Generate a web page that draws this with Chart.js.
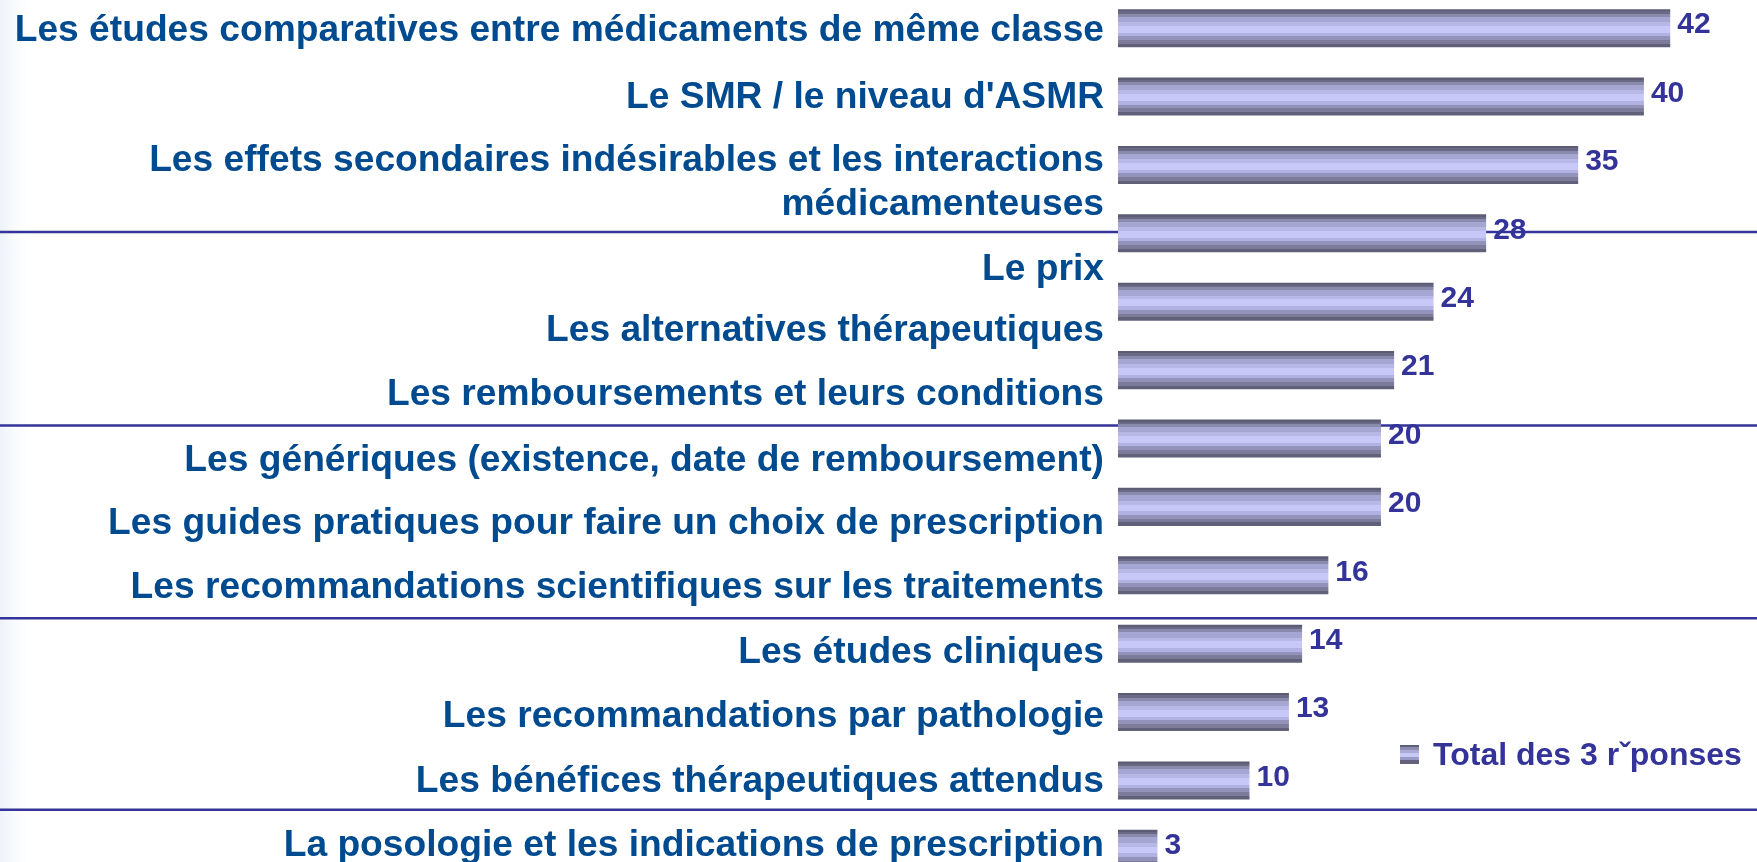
<!DOCTYPE html>
<html>
<head>
<meta charset="utf-8">
<script src="https://cdn.jsdelivr.net/npm/chart.js@4/dist/chart.umd.min.js"></script>
<style>
  html, body { margin: 0; padding: 0; overflow: hidden; }
  body {
    width: 1757px; height: 862px; position: relative;
    background: linear-gradient(to right, #eef3fb 0px, #f8fafd 14px, #ffffff 28px);
  }
  #wrap { position: absolute; left: 0; top: -6px; width: 1757px; height: 889px; }
  #legend {
    position: absolute; left: 1400px; top: 735px; height: 38px;
    display: flex; align-items: center;
    font: bold 32px "Liberation Sans", Arial, sans-serif; color: #333399;
  }
  #legend .swatch {
    width: 19px; height: 19px; margin-right: 14px;
    background: linear-gradient(to bottom, #5e5e78 0 12%, #8c8cb0 12% 28%, #aaaad6 28% 40%, #c8c8f8 40% 62%, #9a9ac4 62% 80%, #62627c 80% 100%);
  }
</style>
</head>
<body>
<div id="wrap"><canvas id="chart"></canvas></div>
<div id="legend"><div class="swatch"></div><span id="legendText"></span></div>
<script>
document.addEventListener("DOMContentLoaded", function () {
    // categories, top to bottom
    const categories = [
        "Les études comparatives entre médicaments de même classe",
        "Le SMR / le niveau d'ASMR",
        ["Les effets secondaires indésirables et les interactions", "médicamenteuses"],
        "Le prix",
        "Les alternatives thérapeutiques",
        "Les remboursements et leurs conditions",
        "Les génériques (existence, date de remboursement)",
        "Les guides pratiques pour faire un choix de prescription",
        "Les recommandations scientifiques sur les traitements",
        "Les études cliniques",
        "Les recommandations par pathologie",
        "Les bénéfices thérapeutiques attendus",
        "La posologie et les indications de prescription"
    ];
    const totals = [42, 40, 35, 28, 24, 21, 20, 20, 16, 14, 13, 10, 3];
    const seriesName = "Total des 3 rˇponses";

    // layout: where the text labels sit (in category units) and the separator rules
    const labelPos = [0.04, 1.02, 2.26, 3.53, 4.43, 5.36, 6.33, 7.25, 8.18, 9.13, 10.07, 11.02, 11.95];
    const separators = [2.98, 5.81, 8.63, 11.43];

    document.getElementById("legendText").textContent = seriesName;

    // horizontal stripes of the bars
    const stripes = [
        [0.00, "#5c5c74"], [0.06, "#6a6a86"], [0.12, "#8a8aac"], [0.20, "#a6a6d2"],
        [0.34, "#b8b8e6"], [0.44, "#c8c8f8"], [0.62, "#b2b2e2"], [0.71, "#9292ba"],
        [0.81, "#7c7c9a"], [0.91, "#606078"]
    ];

    function barFill(c) {
        const chart = c.chart;
        const y = chart.scales.y;
        if (!chart.chartArea || !y || c.dataIndex === undefined) return "#a8a8d4";
        const step = Math.abs(y.getPixelForValue(1) - y.getPixelForValue(0));
        const half = step * 0.556 / 2;
        const cy = y.getPixelForValue(c.dataIndex);
        const g = chart.ctx.createLinearGradient(0, cy - half, 0, cy + half);
        stripes.forEach((s, i) => {
            const end = i + 1 < stripes.length ? stripes[i + 1][0] : 1;
            g.addColorStop(s[0], s[1]);
            g.addColorStop(Math.max(s[0], end - 0.0001), s[1]);
        });
        return g;
    }

    const separatorLines = {
        id: "separatorLines",
        beforeDatasetsDraw(chart) {
            const ctx = chart.ctx;
            const y = chart.scales.y;
            ctx.save();
            ctx.strokeStyle = "#333399";
            ctx.lineWidth = 2.5;
            separators.forEach(v => {
                const py = y.getPixelForValue(v);
                ctx.beginPath();
                ctx.moveTo(0, py);
                ctx.lineTo(chart.width, py);
                ctx.stroke();
            });
            ctx.restore();
        }
    };

    const valueLabels = {
        id: "valueLabels",
        afterDatasetsDraw(chart) {
            const ctx = chart.ctx;
            const meta = chart.getDatasetMeta(0);
            ctx.save();
            ctx.font = "bold 30px 'Liberation Sans', Arial, sans-serif";
            ctx.fillStyle = "#333399";
            ctx.textAlign = "left";
            ctx.textBaseline = "middle";
            meta.data.forEach((bar, i) => {
                ctx.fillText(String(totals[i]), bar.x + 7, bar.y - 3);
            });
            ctx.restore();
        }
    };

    const ctx = document.getElementById("chart").getContext("2d");
    new Chart(ctx, {
        type: "bar",
        data: {
            labels: categories,
            datasets: [{
                label: seriesName,
                data: totals,
                backgroundColor: barFill,
                borderWidth: 0,
                barPercentage: 0.556,
                categoryPercentage: 1,
                yAxisID: "y"
            }]
        },
        options: {
            indexAxis: "y",
            responsive: true,
            maintainAspectRatio: false,
            animation: false,
            layout: { padding: 0 },
            plugins: {
                legend: { display: false },
                tooltip: { enabled: false }
            },
            scales: {
                x: { type: "linear", min: 0, max: 48.6, display: false },
                y: { type: "category", display: false, offset: true },
                yl: {
                    type: "linear",
                    position: "left",
                    reverse: true,
                    offset: false,
                    bounds: "data",
                    min: -0.5,
                    max: categories.length - 0.5,
                    grid: { display: false, drawTicks: false, offset: false },
                    border: { display: false },
                    afterBuildTicks: scale => {
                        // same range as the category axis, ticks where the labels sit
                        scale.min = -0.5;
                        scale.max = categories.length - 0.5;
                        scale.ticks = labelPos.map(v => ({ value: v }));
                    },
                    afterFit: scale => {
                        scale.width = 1118;
                        scale.paddingTop = 0;
                        scale.paddingBottom = 0;
                    },
                    ticks: {
                        autoSkip: false,
                        padding: 14,
                        color: "#004a8f",
                        font: { family: "'Liberation Sans', Arial, sans-serif", size: 37.2, weight: "bold" },
                        callback: (value, index) => categories[index]
                    }
                }
            }
        },
        plugins: [separatorLines, valueLabels]
    });
});
</script>
</body>
</html>
